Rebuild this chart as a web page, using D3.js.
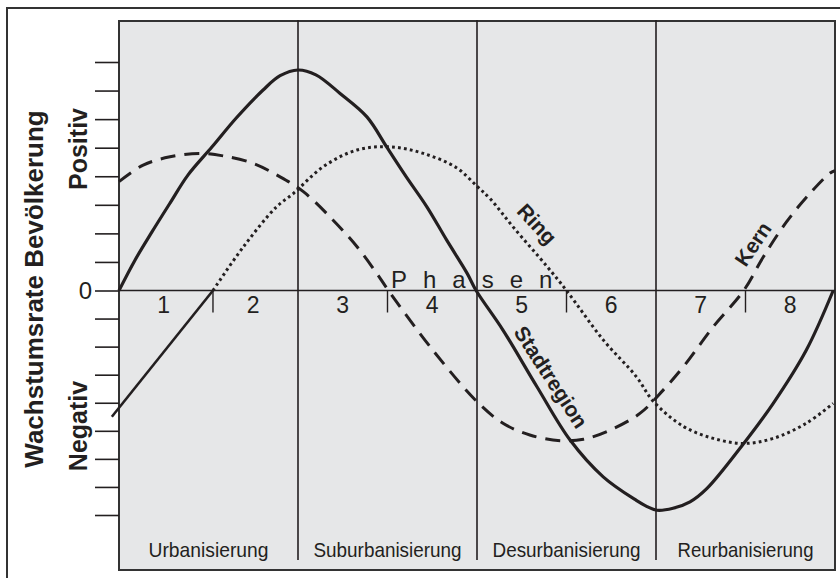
<!DOCTYPE html>
<html>
<head>
<meta charset="utf-8">
<script src="https://cdn.jsdelivr.net/npm/d3@7"></script>
<style>
  body { margin: 0; background: #fff; }
  text { font-family: "Liberation Sans", Arial, sans-serif; fill: #231f20; }
  .fett { font-weight: bold; }
</style>
</head>
<body>
<div id="graf"></div>
<script>
// Datos (fase, tasa)
stadtregion = [[0,0],[0.18,1.07],[0.37,2.06],[0.57,3.06],[0.77,4.04],[1.04,5.03],[1.31,6.04],[1.61,7.02],
  [1.8,7.52],[2.0,7.72],[2.2,7.55],[2.47,6.9],[2.77,6.08],[2.99,5.03],[3.21,3.98],[3.44,2.93],[3.66,1.77],
  [3.89,0.6],[3.99,0],[4.29,-1.41],[4.67,-3.43],[5.04,-5.33],[5.41,-6.64],[5.78,-7.48],[5.9,-7.7],
  [6.01,-7.83],[6.19,-7.76],[6.38,-7.53],[6.57,-7.05],[6.98,-5.45],[7.31,-4.02],[7.68,-2.12],[7.98,0]]
kern = [[0,3.81],[0.27,4.39],[0.57,4.68],[0.9,4.8],[1.17,4.71],[1.5,4.45],[1.8,3.98],[2.06,3.46],
  [2.39,2.47],[2.66,1.53],[2.88,0.6],[3.01,0],[3.5,-2.1],[4.0,-3.96],[4.29,-4.73],[4.59,-5.15],
  [4.93,-5.35],[5.19,-5.3],[5.49,-4.97],[5.82,-4.38],[6.08,-3.55],[6.31,-2.7],[6.64,-1.29],[6.98,0],
  [7.2,1.18],[7.46,2.41],[7.72,3.4],[7.94,4.1],[8,4.2]]
ring = [[1.05,0],[1.39,1.53],[1.76,2.93],[1.95,3.4],[2.28,4.33],[2.66,4.92],[3.03,5.03],[3.4,4.8],
  [3.77,4.3],[4.0,3.65],[4.15,3.2],[4.41,2.2],[4.78,0.85],[5.0,0],[5.41,-1.76],[5.78,-3.07],
  [5.97,-3.95],[6.31,-4.85],[6.64,-5.27],[6.98,-5.45],[7.31,-5.27],[7.68,-4.73],[7.98,-4.02]]
ringAnfang = [[-0.08,-4.5],[1.05,0]]

yTicks = [-8,-7,-6,-5,-4,-3,-2,-1,0,1,2,3,4,5,6,7,8]
phasenNr = ['1','2','3','4','5','6','7','8']
phasenNrPos = [0.5,1.5,2.5,3.5,4.5,5.5,6.5,7.5]
phasenGrenzen = [2,4,6]
phasenMarken = [1.05,3,5,7]
stadien = ['Urbanisierung','Suburbanisierung','Desurbanisierung','Reurbanisierung']
stadienPos = [1,3,5,7]

ancho = 840
alto = 578
box = { left: 119, right: 835, top: 21, bottom: 570 }
farbe = '#231f20'

svg = d3.select('#graf').append('svg')
  .attr('width', ancho).attr('height', alto)

// marco exterior
svg.append('rect')
  .attr('x', 7).attr('y', 8).attr('width', 860).attr('height', 600)
  .attr('fill', 'none').attr('stroke', '#333').attr('stroke-width', 2)

// escalas
x = d3.scaleLinear().domain([0, 8]).range([box.left, box.right])
y = d3.scaleLinear().domain([-8, 0, 8]).range([515, 290.5, 62])

// area gris
svg.append('rect')
  .attr('x', box.left).attr('y', box.top)
  .attr('width', box.right - box.left).attr('height', box.bottom - box.top)
  .attr('fill', '#e6e7e8').attr('stroke', '#333').attr('stroke-width', 2)

// eje y (solo marcas)
yAxis = d3.axisLeft(y).tickValues(yTicks).tickSize(24).tickFormat('')
gy = svg.append('g').attr('transform', `translate(${box.left},0)`).call(yAxis)
gy.select('.domain').remove()
gy.selectAll('line').attr('stroke', farbe).attr('stroke-width', 1.6)

// linea cero
svg.append('line')
  .attr('x1', x(0)).attr('x2', x(8)).attr('y1', y(0)).attr('y2', y(0))
  .attr('stroke', farbe).attr('stroke-width', 1.6)

// divisiones de fases
svg.selectAll('line.grenze').data(phasenGrenzen).enter().append('line')
  .attr('class', 'grenze')
  .attr('x1', d => x(d)).attr('x2', d => x(d))
  .attr('y1', box.top - 1).attr('y2', 560)
  .attr('stroke', farbe).attr('stroke-width', 1.6)

svg.selectAll('line.marke').data(phasenMarken).enter().append('line')
  .attr('class', 'marke')
  .attr('x1', d => x(d)).attr('x2', d => x(d))
  .attr('y1', y(0)).attr('y2', y(0) + 22)
  .attr('stroke', farbe).attr('stroke-width', 1.4)

// numeros de fase
svg.selectAll('text.nr').data(phasenNr).enter().append('text')
  .attr('class', 'nr')
  .attr('x', (d, i) => x(phasenNrPos[i])).attr('y', 313)
  .attr('text-anchor', 'middle').attr('font-size', 23)
  .text(d => d)

// nombres de etapas (letra estrecha)
anchos = [120, 148, 148, 136]
svg.selectAll('text.stadium').data(stadien).enter().append('text')
  .attr('class', 'stadium')
  .attr('x', (d, i) => x(stadienPos[i])).attr('y', 557)
  .attr('text-anchor', 'middle').attr('font-size', 21)
  .attr('textLength', (d, i) => anchos[i]).attr('lengthAdjust', 'spacingAndGlyphs')
  .text(d => d)

svg.append('text')
  .attr('x', 391).attr('y', 288)
  .attr('font-size', 24).attr('letter-spacing', 16)
  .text('Phasen')

svg.append('text')
  .attr('x', 92).attr('y', 299)
  .attr('text-anchor', 'end').attr('font-size', 24)
  .text('0')

// titulos eje y
function vertical(txt, cx, cy, size) {
  svg.append('text')
    .attr('class', 'fett')
    .attr('transform', `translate(${cx},${cy}) rotate(-90)`)
    .attr('text-anchor', 'middle').attr('font-size', size)
    .text(txt)
}
vertical('Wachstumsrate Bevölkerung', 43, 289, 26)
vertical('Positiv', 87, 149, 25)
vertical('Negativ', 87, 426, 25)

// curvas
linea = d3.line().x(d => x(d[0])).y(d => y(d[1])).curve(d3.curveCatmullRom.alpha(0.5))

svg.append('path').datum(ringAnfang)
  .attr('d', d3.line().x(d => x(d[0])).y(d => y(d[1])))
  .attr('fill', 'none').attr('stroke', farbe).attr('stroke-width', 2.6)

svg.append('path').datum(ring)
  .attr('d', linea)
  .attr('fill', 'none').attr('stroke', farbe).attr('stroke-width', 3)
  .attr('stroke-dasharray', '2.8 3.2')

svg.append('path').datum(kern)
  .attr('d', linea)
  .attr('fill', 'none').attr('stroke', farbe).attr('stroke-width', 3)
  .attr('stroke-dasharray', '15 9')

svg.append('path').datum(stadtregion)
  .attr('d', linea)
  .attr('fill', 'none').attr('stroke', farbe).attr('stroke-width', 3.2)

// etiquetas de curvas
function etiqueta(txt, cx, cy, ang) {
  svg.append('text')
    .attr('class', 'fett')
    .attr('transform', `translate(${cx},${cy}) rotate(${ang})`)
    .attr('text-anchor', 'middle').attr('dy', '0.35em').attr('font-size', 21)
    .text(txt)
}
etiqueta('Ring', 537, 224, 47)
etiqueta('Kern', 753, 244, -56)
etiqueta('Stadtregion', 551, 377, 57)
</script>
</body>
</html>
